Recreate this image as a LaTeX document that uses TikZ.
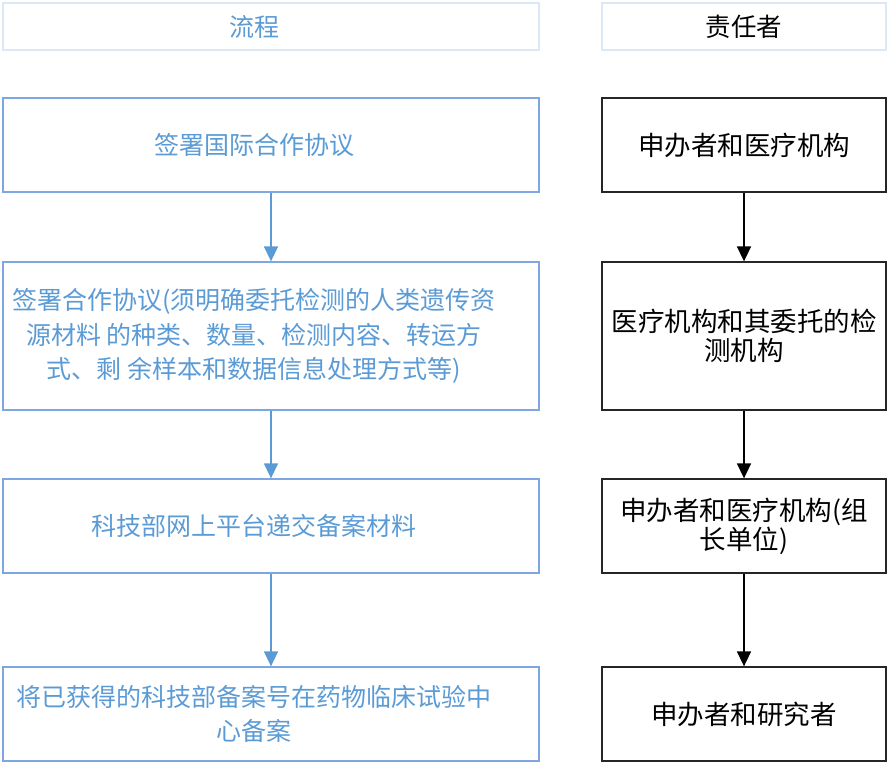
\documentclass[tikz,border=0pt]{standalone}
\usepackage{fontspec}
\newfontfamily\cjk{Noto Sans CJK SC}
\usetikzlibrary{arrows.meta}
\definecolor{bltext}{HTML}{5B9BD5}
\definecolor{blline}{HTML}{7EA6E0}
\definecolor{hdline}{HTML}{DDE8F6}
\tikzset{
  lbox/.style={draw=blline, line width=1.3pt, minimum width=536pt, inner sep=0pt},
  ltext/.style={text=bltext, align=center, inner sep=0pt, xshift=-17pt,
    font=\cjk\fontsize{25}{34.5}\selectfont},
  rbox/.style={draw=black!85, line width=1.3pt, minimum width=284pt, text=black, align=center, inner sep=0pt,
    font=\cjk\fontsize{26.5}{29}\selectfont},
  hdr/.style={draw=hdline, line width=1.5pt, minimum height=47pt},
  larr/.style={draw=bltext, line width=1.6pt, -{Triangle[length=15pt,width=14pt]}},
  rarr/.style={draw=black, line width=1.6pt, -{Triangle[length=15pt,width=14pt]}},
}
\begin{document}
\begin{tikzpicture}[x=1pt,y=-1pt]
\useasboundingbox (0,0) rectangle (890,765);
% headers
\node[lbox, hdr] (lh) at (271,26.5) {};
\node[ltext] (lht) at (lh.center) {流程};
\node[rbox, hdr, font=\cjk\fontsize{25.5}{29}\selectfont] (rh) at (744,26.5) {责任者};
% left column
\node[lbox, minimum height=94pt] (l1) at (271,145) {};
\node[ltext] (l1t) at (l1.center) {签署国际合作协议};
\node[lbox, minimum height=148pt] (l2) at (271,336) {};
\node[ltext] (l2t) at (l2.center) {签署合作协议(须明确委托检测的人类遗传资\\源材料 的种类、数量、检测内容、转运方\\式、剩 余样本和数据信息处理方式等)};
\node[lbox, minimum height=94pt] (l3) at (271,526) {};
\node[ltext] (l3t) at (l3.center) {科技部网上平台递交备案材料};
\node[lbox, minimum height=94pt] (l4) at (271,714) {};
\node[ltext] (l4t) at (l4.center) {将已获得的科技部备案号在药物临床试验中\\心备案};
% right column
\node[rbox, minimum height=94pt] (r1) at (744,145) {申办者和医疗机构};
\node[rbox, minimum height=148pt] (r2) at (744,336) {医疗机构和其委托的检\\测机构};
\node[rbox, minimum height=94pt] (r3) at (744,526) {申办者和医疗机构(组\\长单位)};
\node[rbox, minimum height=94pt] (r4) at (744,714) {申办者和研究者};
% arrows
\draw[larr] (l1) -- (l2);
\draw[larr] (l2) -- (l3);
\draw[larr] (l3) -- (l4);
\draw[rarr] (r1) -- (r2);
\draw[rarr] (r2) -- (r3);
\draw[rarr] (r3) -- (r4);
\end{tikzpicture}
\end{document}
